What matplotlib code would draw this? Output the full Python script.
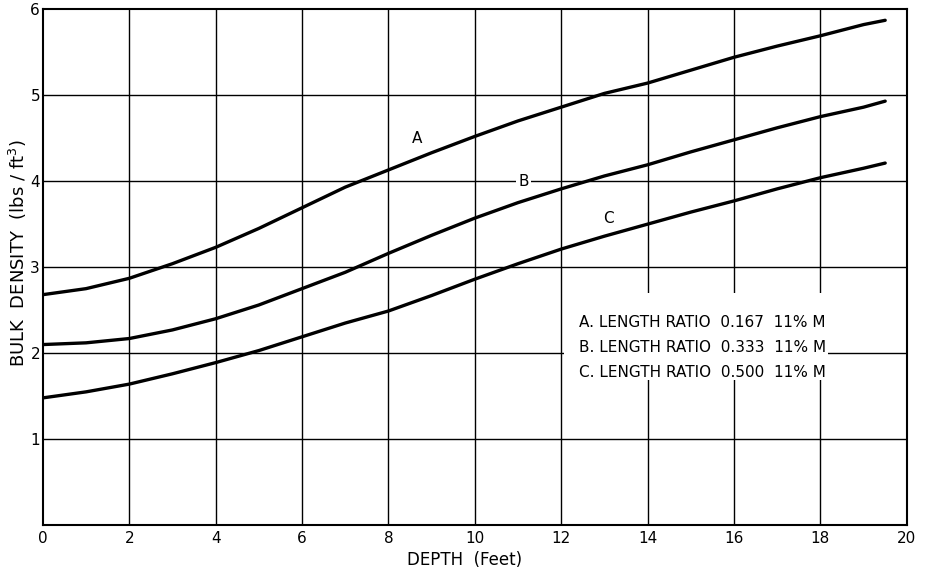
import matplotlib
matplotlib.use("Agg")
import matplotlib.pyplot as plt
from matplotlib.patches import Rectangle

# values
depth = [0, 1, 2, 3, 4, 5, 6, 7, 8, 9, 10, 11, 12, 13, 14, 15, 16, 17, 18, 19, 19.5]
density_a = [2.68, 2.75, 2.87, 3.04, 3.23, 3.45, 3.69, 3.93, 4.13, 4.33, 4.52, 4.70, 4.86, 5.02,
             5.14, 5.29, 5.44, 5.57, 5.69, 5.82, 5.87]
density_b = [2.10, 2.12, 2.17, 2.27, 2.40, 2.56, 2.75, 2.94, 3.16, 3.37, 3.57, 3.75, 3.91, 4.06,
             4.19, 4.34, 4.48, 4.62, 4.75, 4.86, 4.93]
density_c = [1.48, 1.55, 1.64, 1.76, 1.89, 2.03, 2.19, 2.35, 2.49, 2.67, 2.86, 3.04, 3.21, 3.36,
             3.50, 3.64, 3.77, 3.91, 4.04, 4.15, 4.21]

curve_labels = ["A", "B", "C"]
legend_lines = [
    "A. LENGTH RATIO  0.167  11% M",
    "B. LENGTH RATIO  0.333  11% M",
    "C. LENGTH RATIO  0.500  11% M",
]
x_ticks = list(range(0, 21, 2))
y_ticks = [1, 2, 3, 4, 5, 6]

fig = plt.figure(figsize=(9.31, 5.69), dpi=100)
ax = fig.add_axes([0.046, 0.077, 0.928, 0.907])
ax.set_xlim(0, 20)
ax.set_ylim(0, 6)

# grid drawn by hand so the legend box can hide it
for x in x_ticks[1:-1]:
    ax.axvline(x, color="black", lw=1.0, zorder=1)
for y in y_ticks[:-1]:
    ax.axhline(y, color="black", lw=1.0, zorder=1)

ax.add_patch(Rectangle((12.06, 1.69), 6.12, 1.01, facecolor="white", edgecolor="none", zorder=2))

for vals in (density_a, density_b, density_c):
    ax.plot(depth, vals, color="black", lw=2.4, zorder=3, solid_capstyle="round")

fs = 11
ax.text(8.66, 4.49, curve_labels[0], ha="center", va="center", fontsize=fs, zorder=4)
ax.text(11.13, 4.0, curve_labels[1], ha="center", va="center", fontsize=fs, zorder=4,
        bbox=dict(facecolor="white", edgecolor="none", pad=1.5))
ax.text(13.09, 3.56, curve_labels[2], ha="center", va="center", fontsize=fs, zorder=4)

for i, line in enumerate(legend_lines):
    ax.text(12.42, 2.36 - i * 0.29, line, ha="left", va="center", fontsize=fs, zorder=4)

ax.set_xticks(x_ticks)
ax.set_yticks(y_ticks)
ax.tick_params(axis="x", length=0, labelsize=fs, pad=4)
ax.tick_params(axis="y", length=0, labelsize=fs, pad=2)
for s in ax.spines.values():
    s.set_linewidth(1.5)

ax.set_xlabel("DEPTH  (Feet)", fontsize=12)
ax.xaxis.set_label_coords(0.488, -0.068)
ax.xaxis.label.set_va("center")
ax.set_ylabel("BULK  DENSITY  (lbs / ft$^3$)", fontsize=13)
ax.yaxis.set_label_coords(-0.029, 0.527)
ax.yaxis.label.set_va("center")

fig.savefig("out.png", dpi=100)
